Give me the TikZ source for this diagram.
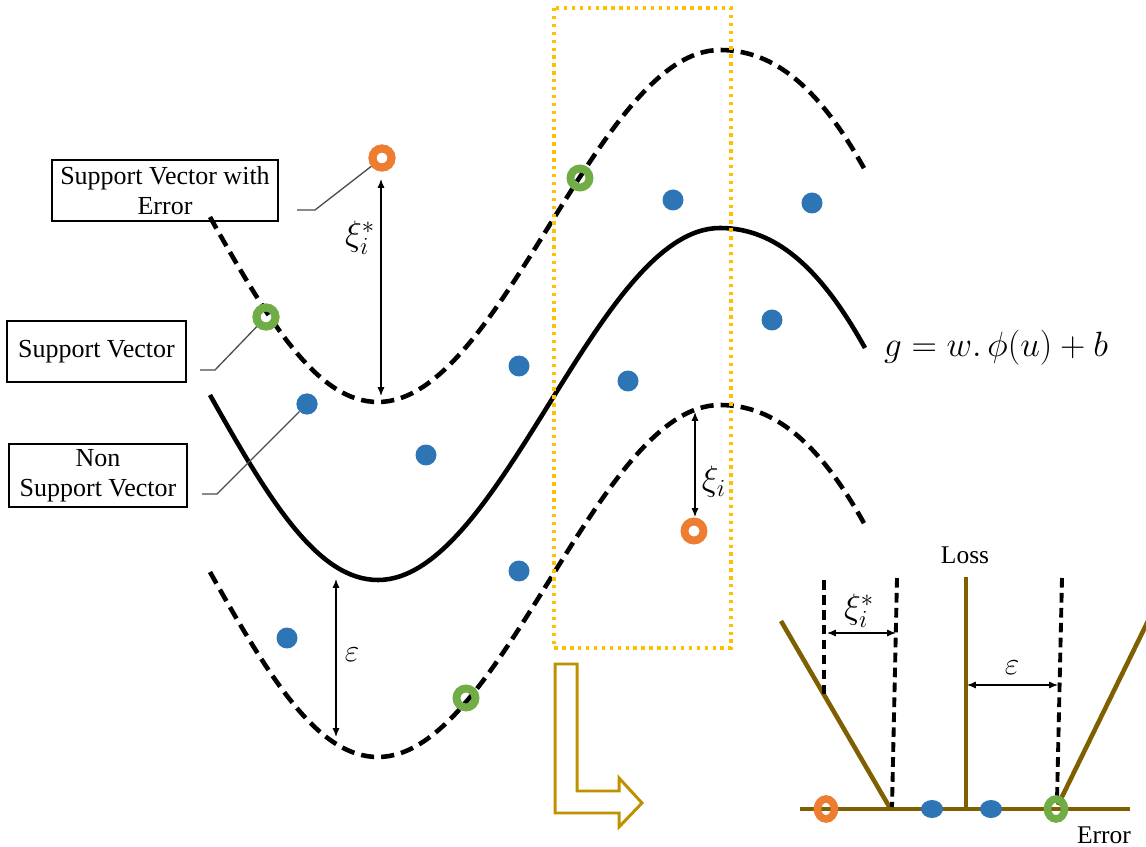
\RequirePackage{fix-cm}
\documentclass[tikz,border=0pt]{standalone}
\usepackage[no-math]{fontspec}
\setmainfont{Liberation Serif}
\usetikzlibrary{arrows.meta,shapes.geometric}
\definecolor{svorange}{HTML}{ED7D31}
\definecolor{svgreen}{HTML}{70AD47}
\definecolor{svblue}{HTML}{2E75B6}
\definecolor{boxgold}{HTML}{FFC000}
\definecolor{lossbrown}{HTML}{7F6000}
\definecolor{arrowgold}{HTML}{BF9000}
\tikzset{
  curve/.style={line width=2.6pt, black},
  dcurve/.style={curve, dash pattern=on 7.5pt off 4pt},
  ring/.style={circle, draw=#1, line width=4.5pt, minimum size=0.38cm, inner sep=0pt},
  dot/.style={circle, fill=svblue, minimum size=0.42cm, inner sep=0pt},
  lring/.style={ellipse, draw=#1, line width=4.3pt, minimum width=0.34cm, minimum height=0.40cm, inner sep=0pt},
  ldot/.style={ellipse, fill=svblue, minimum width=0.44cm, minimum height=0.36cm, inner sep=0pt},
  tagbox/.style={draw, line width=0.7pt, align=center, inner sep=0pt,
    font=\fontsize{14.8}{16.8}\selectfont},
  leader/.style={draw=black!70, line width=0.75pt},
  dim/.style={{Latex[length=5pt,width=4pt]}-{Latex[length=5pt,width=4pt]}, line width=0.7pt},
  mathlbl/.style={font=\fontsize{20}{24}\selectfont, inner sep=0pt},
  epslbl/.style={font=\fontsize{18}{22}\selectfont, inner sep=0pt},
  lossline/.style={draw=lossbrown, line width=2.6pt},
  ldash/.style={line width=2.2pt, dash pattern=on 5.5pt off 3pt},
  axlbl/.style={font=\fontsize{14.5}{16}\selectfont, inner sep=0pt},
  ydots/.style={draw=boxgold, line width=1.9pt, dash pattern=on 1.9pt off 2.6pt},
  hollowarrow/.style={draw=arrowgold, line width=1.7pt, line join=miter}
}
\begin{document}
\begin{tikzpicture}[x=0.02cm, y=-0.02cm]
\useasboundingbox (0,0) rectangle (1146,847);
% curves
\draw[curve] (210,395) .. controls (270,502) and (318,580) .. (378,580)
  .. controls (501,580) and (597,228) .. (720,228)
  .. controls (775,228) and (820,267) .. (865,348);
\draw[dcurve, shift={(0,-178)}] (210,395) .. controls (270,502) and (318,580) .. (378,580)
  .. controls (501,580) and (597,228) .. (720,228)
  .. controls (775,228) and (820,267) .. (865,348);
\draw[dcurve, shift={(0,177)}] (210,395) .. controls (270,502) and (318,580) .. (378,580)
  .. controls (501,580) and (597,228) .. (720,228)
  .. controls (775,228) and (820,267) .. (865,348);
% dotted frame
\draw[ydots] (554,8) rectangle (731,648);
% hollow L arrow
\draw[hollowarrow] (555,664) -- (577,664) -- (577,791) -- (619,791) -- (619,778)
  -- (642,803) -- (619,827) -- (619,813) -- (555,813) -- cycle;
% label boxes
\node[tagbox, minimum width=4.52cm, minimum height=1.22cm] (tb1) at (165,190.5) {Support Vector with\\Error};
\node[tagbox, minimum width=3.58cm, minimum height=1.22cm] (tb2) at (96.5,351.5) {Support Vector};
\node[tagbox, minimum width=3.56cm, minimum height=1.26cm] (tb3) at (98,475.5) {Non\\Support Vector};
% points
\coordinate (po1) at (382,158);
\coordinate (pg2) at (266,317);
\coordinate (pb6) at (307,404);
% leaders
\coordinate (l1) at (297,210);
\coordinate (l2) at (200,370);
\coordinate (l3) at (202,494);
\node[ring=svorange] (o1) at (po1) {};
\node[ring=svgreen] (g2) at (pg2) {};
\node[dot] (b6) at (pb6) {};
\draw[leader] (l1) -- ++(18,0) -- (o1);
\draw[leader] (l2) -- ++(15,0) -- (g2);
\draw[leader] (l3) -- ++(15,0) -- (b6);
\node[ring=svorange] at (po1) {};
\node[ring=svgreen] at (pg2) {};
\node[dot] at (pb6) {};
\node[ring=svorange] (o2) at (694,531) {};
\node[ring=svgreen] (g1) at (580,178) {};
\node[ring=svgreen] (g3) at (466,698) {};
\node[dot] (b1) at (673,200) {};
\node[dot] (b2) at (812,203) {};
\node[dot] (b3) at (772,320) {};
\node[dot] (b4) at (519,366) {};
\node[dot] (b5) at (628,381) {};
\node[dot] (b7) at (426,455) {};
\node[dot] (b8) at (519,571) {};
\node[dot] (b9) at (287,638) {};
% dimension arrows
\coordinate (xs1) at (381,179);
\coordinate (xs2) at (381,396);
\draw[dim] (xs1) -- (xs2);
\node[mathlbl] (xsl) at (360,238) {$\xi_i^*$};
\coordinate (xi1) at (695,412);
\coordinate (xi2) at (695,517);
\draw[dim] (xi1) -- (xi2);
\node[mathlbl] (xil) at (714,482) {$\xi_i$};
\coordinate (ep1) at (336,579);
\coordinate (ep2) at (336,737);
\draw[dim] (ep1) -- (ep2);
\node[epslbl] (epl) at (352,655) {$\varepsilon$};
% formula
\node[inner sep=0pt, font=\fontsize{20}{24}\selectfont] (formula) at (996,348) {$g=w.\,\phi(u)+b$};
% loss plot
\coordinate (ax0) at (800,809);
\coordinate (ax1) at (1130,809);
\coordinate (ay0) at (966,809);
\coordinate (ay1) at (966,577);
\draw[lossline] (ax0) -- (ax1);
\draw[lossline] (ay0) -- (ay1);
\coordinate (sl0) at (781,621);
\coordinate (sl1) at (890,808);
\coordinate (sr0) at (1058,805);
\coordinate (sr1) at (1148,621);
\draw[lossline] (sl0) -- (sl1);
\draw[lossline] (sr0) -- (sr1);
\coordinate (d1a) at (824,580);
\coordinate (d1b) at (824,694);
\coordinate (d2a) at (897,578);
\coordinate (d2b) at (892,807);
\coordinate (d3a) at (1062,578);
\coordinate (d3b) at (1057,800);
\draw[ldash] (d1a) -- (d1b);
\draw[ldash] (d2a) -- (d2b);
\draw[ldash] (d3a) -- (d3b);
\coordinate (lx1) at (827,633);
\coordinate (lx2) at (896,633);
\draw[dim] (lx1) -- (lx2);
\node[mathlbl] (lxl) at (859,611) {$\xi_i^*$};
\coordinate (le1) at (967,685);
\coordinate (le2) at (1058,685);
\draw[dim] (le1) -- (le2);
\node[epslbl] (lel) at (1012,668) {$\varepsilon$};
\node[axlbl] (loss) at (965,555) {Loss};
\node[axlbl] (err) at (1104,835) {Error};
\node[lring=svorange] (lo) at (826,809) {};
\node[ldot] (lb1) at (932,809) {};
\node[ldot] (lb2) at (991,809) {};
\node[lring=svgreen] (lg) at (1056,809) {};
\end{tikzpicture}
\end{document}
